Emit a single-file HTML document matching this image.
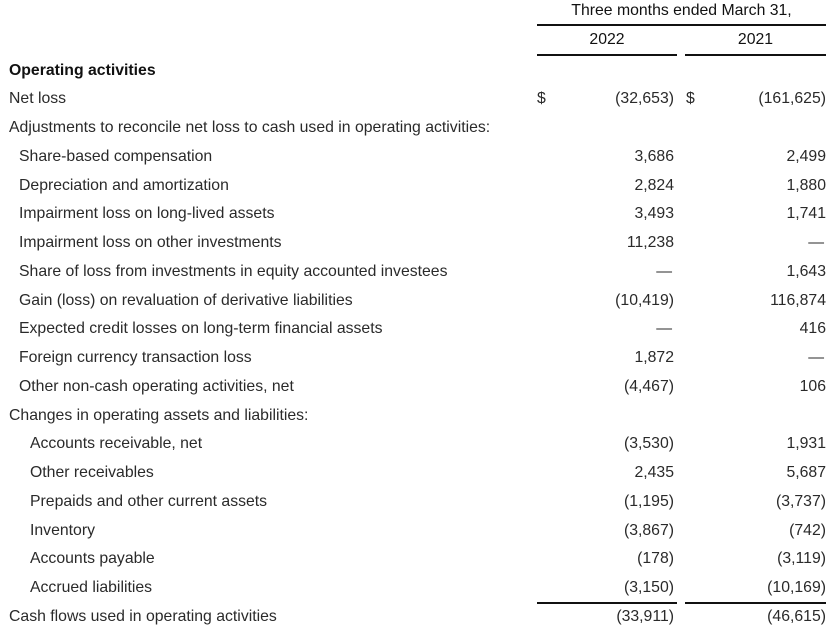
<!DOCTYPE html>
<html><head><meta charset="utf-8"><style>
body{margin:0;width:837px;height:632px;background:#fff;font-family:"Liberation Sans",sans-serif;color:#2a2a2a;font-size:15.8px;position:relative;overflow:hidden}
.t{position:absolute;white-space:nowrap;line-height:18px}
.r{text-align:right}
.ln{position:absolute;height:2px;background:#111}
</style></head><body>
<div class="t" style="left:537px;width:289px;top:2px;text-align:center;color:#111">Three months ended March 31,</div>
<div class="ln" style="left:537px;width:289px;top:24px"></div>
<div class="t" style="left:537px;width:140px;top:31px;text-align:center;color:#111">2022</div>
<div class="t" style="left:685px;width:141px;top:31px;text-align:center;color:#111">2021</div>
<div class="ln" style="left:537px;width:140px;top:54px"></div>
<div class="ln" style="left:685px;width:141px;top:54px"></div>
<div class="ln" style="left:537px;width:140px;top:602px"></div>
<div class="ln" style="left:685px;width:141px;top:602px"></div>
<div id="rows"></div>
<script>
const labels=["Operating activities","Net loss","Adjustments to reconcile net loss to cash used in operating activities:","Share-based compensation","Depreciation and amortization","Impairment loss on long-lived assets","Impairment loss on other investments","Share of loss from investments in equity accounted investees","Gain (loss) on revaluation of derivative liabilities","Expected credit losses on long-term financial assets","Foreign currency transaction loss","Other non-cash operating activities, net","Changes in operating assets and liabilities:","Accounts receivable, net","Other receivables","Prepaids and other current assets","Inventory","Accounts payable","Accrued liabilities","Cash flows used in operating activities"];
const indents=[0,0,0,1,1,1,1,1,1,1,1,1,0,2,2,2,2,2,2,0];
const v2022=["","(32,653)","","3,686","2,824","3,493","11,238","—","(10,419)","—","1,872","(4,467)","","(3,530)","2,435","(1,195)","(3,867)","(178)","(3,150)","(33,911)"];
const v2021=["","(161,625)","","2,499","1,880","1,741","—","1,643","116,874","416","—","106","","1,931","5,687","(3,737)","(742)","(3,119)","(10,169)","(46,615)"];
const root=document.getElementById('rows');
const indentPx=[9,19,30];
labels.forEach((l,i)=>{
  const y=61.5+i*28.75;
  const a=document.createElement('div');a.className='t';a.textContent=l;
  a.style.left=indentPx[indents[i]]+'px';a.style.top=y+'px';
  if(i===0){a.style.fontWeight='bold';a.style.color='#111';}
  
  
  root.appendChild(a);
  [[v2022[i],674],[v2021[i],826]].forEach(([v,x],k)=>{
    if(!v)return;
    const d=document.createElement('div');d.className='t r';d.textContent=v;
    d.style.right=(837-x)+'px';d.style.top=y+'px';
    if(v==='—'){d.style.right=(837-x+2)+'px';}
    
    
    root.appendChild(d);
  });
  if(i===1){
    [537,686].forEach(x=>{const s=document.createElement('div');s.className='t';s.textContent='$';s.style.left=x+'px';s.style.top=y+'px';
    
    
    root.appendChild(s);});
  }
});
</script>
</body></html>
